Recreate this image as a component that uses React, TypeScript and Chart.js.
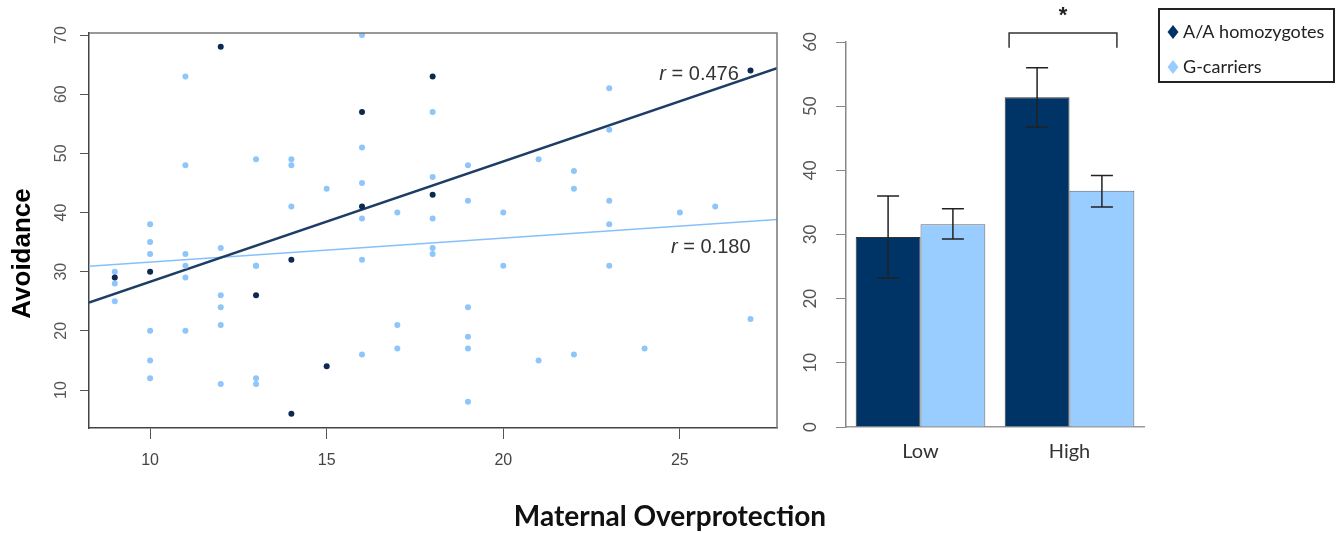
import React, { useEffect, useRef } from "react";
import { Chart, registerables } from "chart.js";
Chart.register(...registerables);

// ---------- Scatter data ----------
const aaX = [9, 10, 12, 13, 14, 14, 15, 16, 16, 18, 18, 27];
const aaY = [29, 30, 68, 26, 32, 6, 14, 57, 41, 63, 43, 64];

const gX = [
  9, 9, 9,
  10, 10, 10, 10, 10, 10,
  11, 11, 11, 11, 11, 11,
  12, 12, 12, 12, 12,
  13, 13, 13, 13, 13,
  14, 14, 14,
  15,
  16, 16, 16, 16, 16, 16,
  17, 17, 17,
  18, 18, 18, 18, 18,
  19, 19, 19, 19, 19, 19,
  20, 20,
  21, 21,
  22, 22, 22,
  23, 23, 23, 23, 23,
  24, 25, 26, 27,
];
const gY = [
  30, 28, 25,
  38, 35, 33, 20, 15, 12,
  63, 48, 33, 31, 29, 20,
  34, 26, 24, 21, 11,
  49, 31, 31, 12, 11,
  49, 48, 41,
  44,
  70, 51, 45, 39, 32, 16,
  40, 21, 17,
  57, 46, 39, 34, 33,
  48, 42, 24, 19, 17, 8,
  40, 31,
  49, 15,
  47, 44, 16,
  61, 54, 42, 38, 31,
  17, 40, 41, 22,
];

const fitX = [8.27, 27.75];
const aaFitY = [24.8, 64.4];
const gFitY = [30.9, 38.8];
const rValues = ["0.476", "0.180"];
const rLabelX = [26.67, 27.0];
const rLabelY = [63.4, 34.1];

const scatterXRange = [8.27, 27.75];
const scatterYRange = [3.58, 70.34];
const xTitle = "Maternal Overprotection";
const yTitle = "Avoidance";

// ---------- Bar data ----------
const barCategories = ["Low", "High"];
const seriesNames = ["A/A homozygotes", "G-carriers"];
const barAA = [29.6, 51.4];
const barAAErrLow = [23.2, 46.7];
const barAAErrHigh = [36.0, 56.0];
const barG = [31.6, 36.8];
const barGErrLow = [29.3, 34.3];
const barGErrHigh = [34.0, 39.2];

const DARK = "#003366";
const LIGHT = "#99ccff";

const scatterDeco = {
  id: "scatterDeco",
  afterDraw(chart: any) {
    const { ctx, chartArea, scales } = chart;
    const xs = scales.x;
    const ys = scales.y;
    ctx.save();
    // frame (top & right)
    ctx.strokeStyle = "#777";
    ctx.lineWidth = 1.5;
    ctx.beginPath();
    ctx.moveTo(chartArea.left, chartArea.top);
    ctx.lineTo(chartArea.right, chartArea.top);
    ctx.lineTo(chartArea.right, chartArea.bottom);
    ctx.stroke();
    // rotated y tick labels
    ctx.fillStyle = "#555";
    ctx.font = "16px 'Liberation Sans'";
    ctx.textAlign = "center";
    ctx.textBaseline = "middle";
    ys.ticks.forEach((t: any) => {
      const py = ys.getPixelForValue(t.value);
      ctx.save();
      ctx.translate(chartArea.left - 27, py);
      ctx.rotate(-Math.PI / 2);
      ctx.fillText(String(t.value), 0, 0);
      ctx.restore();
    });
    // y title
    ctx.save();
    ctx.fillStyle = "#000";
    ctx.font = "bold 26px 'Liberation Sans'";
    ctx.translate(23, (chartArea.top + chartArea.bottom) / 2 + 23);
    ctx.rotate(-Math.PI / 2);
    ctx.fillText(yTitle, 0, 0);
    ctx.restore();
    // x title, centred on the whole figure
    ctx.fillStyle = "#111";
    ctx.font = "bold 28px Lato";
    ctx.textAlign = "center";
    ctx.textBaseline = "middle";
    ctx.fillText(xTitle, chart.width / 2 + 1, chartArea.bottom + 89);
    // r labels
    ctx.fillStyle = "#333";
    ctx.textBaseline = "middle";
    rValues.forEach((v, i) => {
      const px = xs.getPixelForValue(rLabelX[i]);
      const py = ys.getPixelForValue(rLabelY[i]);
      ctx.font = "20px 'Liberation Sans'";
      ctx.textAlign = "right";
      const rest = " = " + v;
      ctx.fillText(rest, px, py);
      const w = ctx.measureText(rest).width;
      ctx.font = "italic 20px 'Liberation Sans'";
      ctx.fillText("r", px - w, py);
    });
    ctx.restore();
  },
};

const barDeco = {
  id: "barDeco",
  afterDraw(chart: any) {
    const { ctx, chartArea, scales } = chart;
    const ys = scales.y;
    ctx.save();
    // rotated y tick labels
    ctx.fillStyle = "#555";
    ctx.font = "17px Lato";
    ctx.textAlign = "center";
    ctx.textBaseline = "middle";
    ys.ticks.forEach((t: any) => {
      const py = ys.getPixelForValue(t.value);
      ctx.save();
      ctx.translate(chartArea.left - 35, py);
      ctx.rotate(-Math.PI / 2);
      ctx.fillText(String(t.value), 0, 0);
      ctx.restore();
    });
    // error bars
    const errs = [
      [barAAErrLow, barAAErrHigh],
      [barGErrLow, barGErrHigh],
    ];
    ctx.strokeStyle = "#222";
    ctx.lineWidth = 1.5;
    errs.forEach((e, di) => {
      const meta = chart.getDatasetMeta(di);
      meta.data.forEach((bar: any, j: number) => {
        const x = bar.x;
        const y1 = ys.getPixelForValue(e[0][j]);
        const y2 = ys.getPixelForValue(e[1][j]);
        const cap = 11;
        ctx.beginPath();
        ctx.moveTo(x, y1);
        ctx.lineTo(x, y2);
        ctx.moveTo(x - cap, y1);
        ctx.lineTo(x + cap, y1);
        ctx.moveTo(x - cap, y2);
        ctx.lineTo(x + cap, y2);
        ctx.stroke();
      });
    });
    // significance bracket over "High"
    const d = chart.getDatasetMeta(0).data[1];
    const l = chart.getDatasetMeta(1).data[1];
    const bl = d.x - 28;
    const br = l.x + 15;
    const bt = ys.getPixelForValue(61.4);
    const bb = ys.getPixelForValue(59.1);
    ctx.strokeStyle = "#333";
    ctx.lineWidth = 1.5;
    ctx.beginPath();
    ctx.moveTo(bl, bb);
    ctx.lineTo(bl, bt);
    ctx.lineTo(br, bt);
    ctx.lineTo(br, bb);
    ctx.stroke();
    ctx.fillStyle = "#222";
    ctx.font = "bold 22px 'Liberation Sans'";
    ctx.textAlign = "center";
    ctx.textBaseline = "middle";
    ctx.fillText("*", (bl + br) / 2, 16);
    // legend
    const lx = chartArea.right + 15;
    const ly = 9;
    const lw = 175;
    const lh = 73;
    ctx.strokeStyle = "#222";
    ctx.lineWidth = 2;
    ctx.strokeRect(lx, ly, lw, lh);
    const cols = [DARK, LIGHT];
    seriesNames.forEach((name, i) => {
      const cy = ly + 23 + i * 35;
      const cx = lx + 14;
      ctx.fillStyle = cols[i];
      ctx.beginPath();
      ctx.moveTo(cx, cy - 7);
      ctx.lineTo(cx + 5.5, cy);
      ctx.lineTo(cx, cy + 7);
      ctx.lineTo(cx - 5.5, cy);
      ctx.closePath();
      ctx.fill();
      ctx.fillStyle = "#222";
      ctx.font = "18px Lato";
      ctx.textAlign = "left";
      ctx.textBaseline = "middle";
      ctx.fillText(name, lx + 24, cy);
    });
    ctx.restore();
  },
};

export default function App() {
  const scRef = useRef<HTMLCanvasElement>(null);
  const barRef = useRef<HTMLCanvasElement>(null);

  useEffect(() => {
    const sc = new Chart(scRef.current as HTMLCanvasElement, {
      type: "scatter",
      data: {
        datasets: [
          {
            label: seriesNames[0],
            data: aaX.map((x, i) => ({ x, y: aaY[i] })),
            pointRadius: 3,
            pointBackgroundColor: "#0b2a52",
            pointBorderWidth: 0,
            order: 0,
          },
          {
            label: seriesNames[1],
            data: gX.map((x, i) => ({ x, y: gY[i] })),
            pointRadius: 3,
            pointBackgroundColor: "#8ec5fa",
            pointBorderWidth: 0,
            order: 1,
          },
          {
            label: "fit A/A",
            data: fitX.map((x, i) => ({ x, y: aaFitY[i] })),
            showLine: true,
            borderColor: "#1e3d66",
            borderWidth: 2.5,
            pointRadius: 0,
            order: 2,
          },
          {
            label: "fit G",
            data: fitX.map((x, i) => ({ x, y: gFitY[i] })),
            showLine: true,
            borderColor: "#86c0fb",
            borderWidth: 1.5,
            pointRadius: 0,
            order: 3,
          },
        ],
      },
      options: {
        responsive: false,
        animation: false,
        layout: { padding: { top: 33, right: 561, left: 0, bottom: 0 } },
        plugins: {
          legend: { display: false },
          tooltip: { enabled: false },
        },
        scales: {
          x: {
            type: "linear",
            min: scatterXRange[0],
            max: scatterXRange[1],
            ticks: {
              stepSize: 5,
              includeBounds: false,
              maxRotation: 0,
              color: "#444",
              padding: 12,
              font: { family: "Liberation Sans", size: 16 },
            },
            grid: { drawOnChartArea: false, drawTicks: true, tickLength: 11, color: "#555" },
            border: { color: "#444", width: 1.5 },
            afterFit: (s: any) => {
              s.height = 105;
            },
          },
          y: {
            type: "linear",
            min: scatterYRange[0],
            max: scatterYRange[1],
            ticks: { stepSize: 10, includeBounds: false, display: false },
            grid: { drawOnChartArea: false, drawTicks: true, tickLength: 9, color: "#555" },
            border: { color: "#444", width: 1.5 },
            afterFit: (s: any) => {
              s.width = 89;
            },
          },
        },
      } as any,
      plugins: [scatterDeco],
    });

    const bc = new Chart(barRef.current as HTMLCanvasElement, {
      type: "bar",
      data: {
        labels: barCategories,
        datasets: [
          {
            label: seriesNames[0],
            data: barAA,
            backgroundColor: DARK,
            borderColor: "#333",
            borderWidth: 1,
            categoryPercentage: 0.87,
            barPercentage: 1,
          },
          {
            label: seriesNames[1],
            data: barG,
            backgroundColor: LIGHT,
            borderColor: "#666",
            borderWidth: 1,
            categoryPercentage: 0.87,
            barPercentage: 1,
          },
        ],
      },
      options: {
        responsive: false,
        animation: false,
        layout: { padding: { top: 42, right: 194, left: 0, bottom: 0 } },
        plugins: { legend: { display: false }, tooltip: { enabled: false } },
        scales: {
          x: {
            grid: { drawOnChartArea: false, drawTicks: false },
            border: { color: "#999", width: 1.5 },
            ticks: { color: "#333", padding: 13, font: { family: "Lato", size: 20 } },
            afterFit: (s: any) => {
              s.height = 106;
            },
          },
          y: {
            min: 0,
            max: 60,
            ticks: { stepSize: 10, display: false },
            grid: { drawOnChartArea: false, drawTicks: true, tickLength: 10, color: "#888" },
            border: { color: "#888", width: 1.5 },
            afterFit: (s: any) => {
              s.width = 56;
            },
          },
        },
      } as any,
      plugins: [barDeco],
    });

    return () => {
      sc.destroy();
      bc.destroy();
    };
  }, []);

  return (
    <div style={{ position: "absolute", left: 0, top: 0, width: 1338, height: 533, background: "#fff" }}>
      <canvas ref={scRef} width={1338} height={533} style={{ position: "absolute", left: 0, top: 0 }} />
      <canvas ref={barRef} width={548} height={533} style={{ position: "absolute", left: 790, top: 0 }} />
    </div>
  );
}
